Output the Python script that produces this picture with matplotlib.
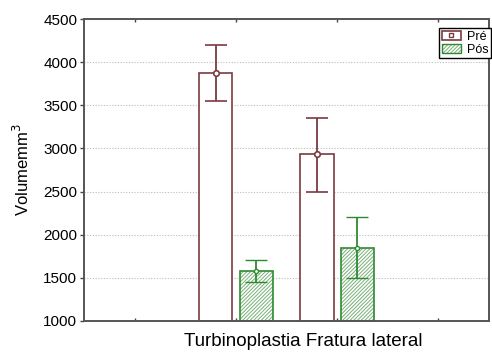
import matplotlib
matplotlib.use("Agg")
from matplotlib import pyplot as plt
from matplotlib.patches import Patch
from matplotlib.lines import Line2D
import numpy as np

plt.rcParams['font.family'] = ['Liberation Sans', 'DejaVu Sans']
plt.rcParams['hatch.linewidth'] = 0.7

# data
grupos = ["Turbinoplastia", "Fratura lateral"]
pre_media = [3870, 2930]
pre_sup = [4200, 3350]
pre_inf = [3550, 2500]
pos_media = [1575, 1845]
pos_sup = [1710, 2200]
pos_inf = [1450, 1500]

cor_pre = '#7b3a40'
cor_pos = '#2f8a2f'
cor_hatch = '#78b078'

fig = plt.figure(figsize=(4.92, 3.53), dpi=100)
ax = fig.add_axes([0.171, 0.091, 0.823, 0.855])

x = np.arange(1, len(grupos) + 1)
w = 0.33
off = 0.2
base = 1000

ax.bar(x - off, np.array(pre_media) - base, w, bottom=base, facecolor='white',
       edgecolor=cor_pre, linewidth=1.2, zorder=2)
# hatch layer then outline
ax.bar(x + off, np.array(pos_media) - base, w, bottom=base, facecolor='white',
       edgecolor=cor_hatch, linewidth=0, hatch='/////////', zorder=2)
ax.bar(x + off, np.array(pos_media) - base, w, bottom=base, facecolor='none',
       edgecolor=cor_pos, linewidth=1.2, zorder=2)

err_pre = [np.array(pre_media) - np.array(pre_inf), np.array(pre_sup) - np.array(pre_media)]
err_pos = [np.array(pos_media) - np.array(pos_inf), np.array(pos_sup) - np.array(pos_media)]
ax.errorbar(x - off, pre_media, yerr=err_pre, fmt='o', color=cor_pre, mfc='white',
            ms=4, mew=1.2, elinewidth=1.3, capsize=8, capthick=1.3, zorder=3)
ax.errorbar(x + off, pos_media, yerr=err_pos, fmt='o', color=cor_pos, mfc='white',
            ms=3, mew=1, elinewidth=1.3, capsize=8, capthick=1.3, zorder=3)

ax.set_xlim(-0.5, 3.5)
ax.set_ylim(1000, 4500)
ax.set_xticks([0, 1, 2, 3])
ax.set_xticklabels([])
ax.set_yticks(np.arange(1000, 4501, 500))
ax.tick_params(axis='x', direction='in', length=2, top=True, width=1, color='#444444')
ax.tick_params(axis='y', direction='out', length=3, labelsize=11, width=1, color='#444444', pad=2)
ax.yaxis.grid(True, linestyle=(0, (1, 1.5)), color='#bbbbbb', linewidth=0.8, zorder=0)
ax.set_axisbelow(True)
for s in ax.spines.values():
    s.set_color('#555555')
    s.set_linewidth(1.4)

ax.set_ylabel('Volumemm$^3$', fontsize=12, labelpad=8)
ax.set_xlabel(' '.join(grupos), fontsize=13.5, x=0.54, labelpad=5)

h_pre = (Patch(facecolor='white', edgecolor=cor_pre, linewidth=1.2),
         Line2D([], [], marker='s', ls='none', mfc='white', mec=cor_pre, ms=3.5))
h_pos = (Patch(facecolor='white', edgecolor=cor_hatch, hatch='/////////', linewidth=0),
         Patch(facecolor='none', edgecolor=cor_pos, linewidth=1))
leg = ax.legend([h_pre, h_pos], ['Pré', 'Pós'], loc='upper right', fontsize=9,
                fancybox=False, edgecolor='black', framealpha=1,
                bbox_to_anchor=(1.005, 0.97),
                handlelength=1.5, handleheight=0.7, handletextpad=0.5,
                borderpad=0.2, labelspacing=0.08, borderaxespad=0)
leg.get_frame().set_linewidth(1.0)

fig.savefig("out.png", dpi=100)
